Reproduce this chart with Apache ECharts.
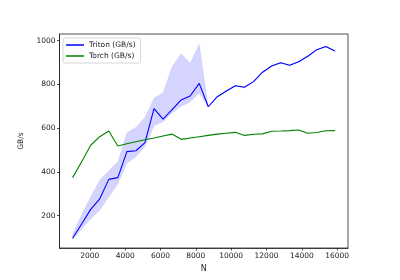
<!DOCTYPE html>
<html><head><meta charset="utf-8">
<script src="https://cdn.jsdelivr.net/npm/echarts@6/dist/echarts.min.js"></script>
<style>html,body{margin:0;padding:0;background:#fff}#c{width:400px;height:280px}</style>
</head><body><div id="c"></div>
<script>
const N = [1024,1536,2048,2560,3072,3584,4096,4608,5120,5632,6144,6656,7168,7680,8192,8704,9216,9728,10240,10752,11264,11776,12288,12800,13312,13824,14336,14848,15360,15872];
const tritonGBs = [97,162,229,277,366,374,493,497,534,689,641,685,729,747,805,698,744,770,794,787,813,856,884,899,888,904,929,959,973,953];
const tritonMin = [90,140,185,225,285,345,440,470,515,610,630,670,700,720,760,698,742,768,792,785,811,854,882,897,886,902,927,957,971,951];
const tritonMax = [115,205,287,363,405,447,579,604,650,738,762,881,942,897,985,698,746,772,796,789,815,858,886,901,890,906,931,961,975,955];
const torchGBs = [374,447,522,561,587,519,529,538,547,555,564,573,549,555,561,567,573,577,581,567,572,574,586,587,589,592,577,580,588,589];
const xTicks = [2000,4000,6000,8000,10000,12000,14000,16000];
const yTicks = [200,400,600,800,1000];

const pair = arr => N.map((n,i)=>[n,arr[i]]);
const font = 'DejaVu Sans';
const chart = echarts.init(document.getElementById('c'));
chart.setOption({
  animation:false,
  grid:{left:59.5,right:52,top:34,bottom:32,show:true,borderColor:'#222',borderWidth:0.8,backgroundColor:'transparent'},
  xAxis:{type:'value',min:282,max:16614,name:'N',nameLocation:'middle',nameGap:17,
    nameTextStyle:{fontFamily:font,fontSize:8,color:'#222'},
    axisLine:{show:true,lineStyle:{color:'#222',width:0.8}},
    axisTick:{show:true,inside:false,length:2.5,customValues:xTicks,lineStyle:{color:'#222',width:0.8}},
    axisLabel:{customValues:xTicks,formatter:v=>String(v),fontFamily:font,fontSize:7.5,color:'#222',margin:4},
    splitLine:{show:false}},
  yAxis:{type:'value',min:52.3,max:1030.6,name:'GB/s',nameLocation:'middle',nameGap:32,nameRotate:90,
    nameTextStyle:{fontFamily:font,fontSize:7.5,color:'#222'},
    axisLine:{show:true,lineStyle:{color:'#222',width:0.8}},
    axisTick:{show:true,length:2.5,customValues:yTicks,lineStyle:{color:'#222',width:0.8}},
    axisLabel:{customValues:yTicks,formatter:v=>String(v),fontFamily:font,fontSize:7.5,color:'#222',margin:4},
    splitLine:{show:false}},
  legend:{data:['Triton (GB/s)','Torch (GB/s)'],orient:'vertical',left:63,top:38,
    backgroundColor:'rgba(255,255,255,0.8)',borderColor:'#ccc',borderWidth:0.8,borderRadius:2,
    padding:[3,5,3,3],itemGap:3,itemWidth:18,itemHeight:1.5,icon:'rect',
    textStyle:{fontFamily:font,fontSize:7.5,color:'#222',padding:[0,0,0,0]}},
  series:[
    {name:'band',type:'custom',silent:true,z:1,data:N.map((n,i)=>[n,tritonMin[i],tritonMax[i]]),
      encode:{x:0,y:[1,2]},
      renderItem:function(params,api){
        if(params.dataIndex!==0) return null;
        const pts=[];
        for(let i=0;i<N.length;i++) pts.push(api.coord([N[i],tritonMax[i]]));
        for(let i=N.length-1;i>=0;i--) pts.push(api.coord([N[i],tritonMin[i]]));
        return {type:'polygon',shape:{points:pts},style:{fill:'rgba(0,0,255,0.17)',stroke:'rgba(0,0,255,0.1)',lineWidth:0.5}};
      }},
    {name:'Triton (GB/s)',type:'line',data:pair(tritonGBs),symbol:'none',color:'#0000ff',lineStyle:{color:'#0000ff',width:1.1},z:3},
    {name:'Torch (GB/s)',type:'line',data:pair(torchGBs),symbol:'none',color:'#008000',lineStyle:{color:'#008000',width:1.1},z:3}
  ]
});
</script></body></html>
